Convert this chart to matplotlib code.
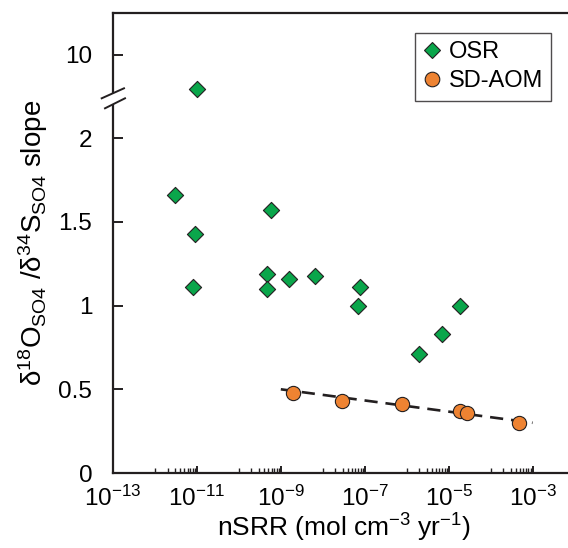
import numpy as np
import matplotlib
matplotlib.use("Agg")
import matplotlib.pyplot as plt
from matplotlib.lines import Line2D
from matplotlib.patches import Polygon
from matplotlib.ticker import FixedLocator, NullFormatter, LogFormatterSciNotation

plt.rcParams['font.family'] = ['Liberation Sans', 'DejaVu Sans']
plt.rcParams['mathtext.fontset'] = 'custom'
plt.rcParams['mathtext.rm'] = 'Liberation Sans'
plt.rcParams['mathtext.it'] = 'Liberation Sans:italic'
plt.rcParams['axes.unicode_minus'] = False

# OSR data (nSRR, slope)
osr_x = [3.0e-12, 9.1e-12, 7.9e-12, 1.0e-11, 5.8e-10, 4.8e-10, 4.8e-10,
         1.6e-09, 6.4e-09, 7.9e-08, 6.8e-08, 1.95e-06, 6.8e-06, 1.9e-05]
osr_y = [1.663, 1.427, 1.108, 6.7, 1.568, 1.189, 1.098,
         1.160, 1.178, 1.110, 0.998, 0.711, 0.831, 0.998]

# SD-AOM data
aom_x = [1.95e-09, 2.9e-08, 7.8e-07, 1.9e-05, 2.8e-05, 4.8e-04]
aom_y = [0.480, 0.430, 0.411, 0.371, 0.357, 0.297]

# SD-AOM trend line
trend_x = [1e-9, 1e-3]
trend_y = [0.50, 0.30]

ytick_vals = [0, 0.5, 1, 1.5, 2, 10]
ytick_labels = ["0", "0.5", "1", "1.5", "2", "10"]

# broken y axis: linear up to 2, compressed above
K = 0.0623
def fwd(y):
    y = np.asarray(y, dtype=float)
    return np.where(y <= 2, y, 2 + (y - 2) * K)

def inv(p):
    p = np.asarray(p, dtype=float)
    return np.where(p <= 2, p, 2 + (p - 2) / K)

fig = plt.figure(figsize=(5.68, 5.48), dpi=100)
ax = fig.add_axes([113 / 568, 75 / 548, 461.5 / 568, 460 / 548])

ax.set_xscale('log')
ax.set_yscale('function', functions=(fwd, inv))

ax.plot(trend_x, trend_y, linestyle=(0, (5, 3)), color='#231f20', lw=1.9, zorder=2)
ax.scatter(osr_x, osr_y, marker='D', s=68, color='#0aa64b', edgecolor='#231f20',
           linewidth=0.8, zorder=3)
ax.scatter(aom_x, aom_y, marker='o', s=105, color='#ee8332', edgecolor='#231f20',
           linewidth=0.8, zorder=3)

ax.set_xlim(1e-13, 10 ** -2.0)
ax.set_ylim(0, 14.0)

ax.set_yticks(ytick_vals)
ax.set_yticklabels(ytick_labels)
ax.yaxis.set_minor_locator(FixedLocator([]))

ax.xaxis.set_major_locator(FixedLocator([10.0 ** e for e in range(-13, -2, 2)]))
ax.xaxis.set_major_formatter(LogFormatterSciNotation())
minor = [k * 10.0 ** e for e in range(-12, -2, 2) for k in range(1, 10)]
ax.xaxis.set_minor_locator(FixedLocator(minor))
ax.xaxis.set_minor_formatter(NullFormatter())

ax.tick_params(axis='both', which='major', direction='in', labelsize=17.5,
               length=5, width=1.4, colors='#231f20')
ax.tick_params(axis='x', which='major', pad=9)
ax.tick_params(axis='y', which='major', pad=15, length=7)
ax.tick_params(axis='x', which='minor', direction='in', length=3.5, width=1.0,
               colors='#231f20')
ax.tick_params(axis='x', labelcolor='black')
ax.tick_params(axis='y', labelcolor='black')

for side in ['left', 'bottom', 'top']:
    ax.spines[side].set_linewidth(1.6)
    ax.spines[side].set_color('#231f20')
ax.spines['right'].set_visible(False)

ax.set_xlabel(r"nSRR (mol cm$^{\mathrm{-3}}$ yr$^{\mathrm{-1}}$)", fontsize=19, labelpad=1)
ax.set_ylabel(r"δ$^{\mathrm{18}}$O$_{\mathrm{SO4}}$ /δ$^{\mathrm{34}}$S$_{\mathrm{SO4}}$ slope",
              fontsize=20, labelpad=6)

# axis break marks
def fx(px):
    return px / 568

def fy(py):
    return 1 - py / 548

gap = Polygon([(fx(101.7), fy(98.3)), (fx(124), fy(88.3)), (fx(125), fy(98.3)),
               (fx(105), fy(108.3))], closed=True, transform=fig.transFigure,
              facecolor='white', edgecolor='none', zorder=5)
fig.patches.append(gap)
fig.lines.append(Line2D([fx(101.7), fx(124)], [fy(98.3), fy(88.3)],
                        transform=fig.transFigure, color='#231f20', lw=1.4, zorder=6))
fig.lines.append(Line2D([fx(105), fx(125)], [fy(108.3), fy(98.3)],
                        transform=fig.transFigure, color='#231f20', lw=1.4, zorder=6))

handles = [
    Line2D([], [], marker='D', linestyle='none', markersize=8,
           markerfacecolor='#0aa64b', markeredgecolor='#231f20', markeredgewidth=0.8),
    Line2D([], [], marker='o', linestyle='none', markersize=10.5,
           markerfacecolor='#ee8332', markeredgecolor='#231f20', markeredgewidth=0.8),
]
leg = ax.legend(handles, ["OSR", "SD-AOM"], loc='upper right',
                bbox_to_anchor=(0.9495, 0.9565), borderaxespad=0, fontsize=17,
                frameon=True, fancybox=False, handlelength=0.7, handletextpad=0.35,
                borderpad=0.35, labelspacing=0.3)
leg.get_frame().set_edgecolor('#231f20')
leg.get_frame().set_linewidth(1.0)

fig.savefig("out.png", dpi=100)
